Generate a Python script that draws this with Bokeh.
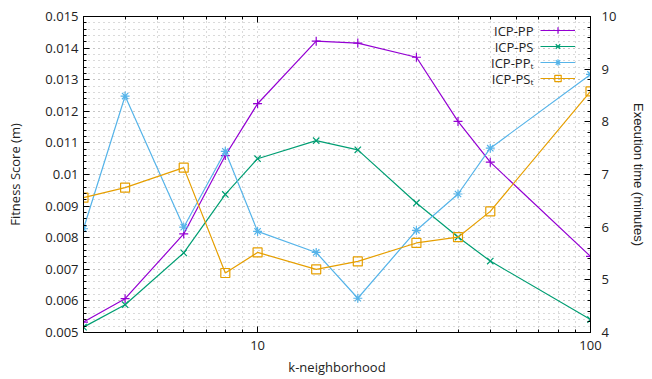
from bokeh.plotting import figure
from bokeh.models import (Range1d, LinearAxis, LogAxis, FixedTicker, Legend, LegendItem, Label)
from bokeh.embed import file_html
from bokeh.resources import INLINE

# ---- data ----
k = [3, 4, 6, 8, 10, 15, 20, 30, 40, 50, 100]
icp_pp = [0.00533, 0.00607, 0.00812, 0.0106, 0.01224, 0.01422, 0.01416, 0.01371, 0.01168, 0.01039, 0.00741]
icp_ps = [0.00517, 0.00588, 0.00752, 0.00937, 0.0105, 0.01107, 0.01078, 0.00910, 0.00802, 0.00726, 0.00541]
icp_pp_t = [5.97, 8.49, 6.00, 7.44, 5.92, 5.52, 4.65, 5.94, 6.63, 7.50, 8.90]
icp_ps_t = [6.56, 6.75, 7.13, 5.13, 5.52, 5.20, 5.35, 5.70, 5.81, 6.30, 8.58]
series_names = ["ICP-PP", "ICP-PS", "ICP-PP\u209c", "ICP-PS\u209c"]

x_major = [10, 100]
x_minor = [3, 4, 5, 6, 7, 8, 9, 20, 30, 40, 50, 60, 70, 80, 90]
y_major = [0.005, 0.006, 0.007, 0.008, 0.009, 0.010, 0.011, 0.012, 0.013, 0.014, 0.015]
y_labels = ["0.005", "0.006", "0.007", "0.008", "0.009", "0.01", "0.011", "0.012", "0.013", "0.014", "0.015"]
y_minor = [round(0.005 + i * 0.0002, 5) for i in range(51)]
y2_major = [4, 5, 6, 7, 8, 9, 10]
y2_minor = [round(4 + i * 0.2, 2) for i in range(31)]

FONT = "Open Sans"
TXT = "#222222"

p = figure(width=652, height=379, x_axis_type="log", output_backend="svg",
           toolbar_location=None, x_range=Range1d(3, 100), y_range=Range1d(0.005, 0.015),
           min_border_left=83, min_border_right=62, min_border_top=16, min_border_bottom=47)
p.extra_y_ranges = {"time": Range1d(4, 10)}
p.outline_line_color = "black"
p.outline_line_width = 1
p.background_fill_color = "white"

xt = FixedTicker(ticks=x_major, minor_ticks=x_minor)
yt = FixedTicker(ticks=y_major, minor_ticks=y_minor)
y2t = FixedTicker(ticks=y2_major, minor_ticks=y2_minor)

def style_axis(ax):
    ax.axis_line_color = "black"
    ax.major_tick_in = 6
    ax.major_tick_out = 0
    ax.minor_tick_in = 3
    ax.minor_tick_out = 0
    ax.major_tick_line_color = "black"
    ax.minor_tick_line_color = "black"
    ax.major_label_text_font = FONT
    ax.major_label_text_font_size = "13px"
    ax.major_label_text_color = TXT
    ax.axis_label_text_font = FONT
    ax.axis_label_text_font_size = "13px"
    ax.axis_label_text_font_style = "normal"
    ax.axis_label_text_color = TXT

xa = p.xaxis[0]
xa.ticker = xt
xa.major_label_overrides = {10: "10", 100: "100"}
xa.axis_label = "k-neighborhood"
style_axis(xa)
xa.major_label_standoff = 8
xa.axis_label_standoff = 5

ya = p.yaxis[0]
ya.ticker = yt
ya.major_label_overrides = {v: s for v, s in zip(y_major, y_labels)}
ya.axis_label = "Fitness Score (m)"
style_axis(ya)
ya.major_label_standoff = 5
ya.axis_label_standoff = 18

y2 = LinearAxis(y_range_name="time", ticker=y2t, axis_label="Execution time (minutes)")
style_axis(y2)
y2.major_label_standoff = 11
y2.axis_label_standoff = 12
y2.axis_label_text_font = "Liberation Sans"
p.add_layout(y2, "right")

top = LogAxis(ticker=xt)
style_axis(top)
top.major_label_text_font_size = "1px"
top.major_label_text_alpha = 0
top.major_label_standoff = 0
p.add_layout(top, "above")

# grids
for g, t in ((p.xgrid[0], xt), (p.ygrid[0], yt)):
    g.ticker = t
    g.grid_line_color = "#b4b4b4"
    g.grid_line_dash = "1 4"
    g.grid_line_width = 1
    g.minor_grid_line_color = "#b4b4b4"
    g.minor_grid_line_dash = "1 4"
    g.minor_grid_line_width = 1

C_PP, C_PS, C_PPT, C_PST = "#9400d3", "#009e73", "#56b4e9", "#e69f00"
LW = 1.2

l1 = p.line(k, icp_pp, color=C_PP, line_width=LW)
m1 = p.scatter(k, icp_pp, marker="cross", size=9, line_color=C_PP, line_width=LW)
l2 = p.line(k, icp_ps, color=C_PS, line_width=LW)
m2 = p.scatter(k, icp_ps, marker="x", size=9, line_color=C_PS, line_width=LW)
l3 = p.line(k, icp_pp_t, color=C_PPT, line_width=LW, y_range_name="time")
m3 = p.scatter(k, icp_pp_t, marker="asterisk", size=9, line_color=C_PPT, line_width=LW, y_range_name="time")
l4 = p.line(k, icp_ps_t, color=C_PST, line_width=LW, y_range_name="time")
m4 = p.scatter(k, icp_ps_t, marker="square", size=9, line_color=C_PST, fill_color=None,
               line_width=LW, y_range_name="time")

# gnuplot-style key: sample glyphs on the right, right-aligned names on the left
ROW_H = 16
LEG_X = 457          # frame px from left where the samples start
LEG_BOTTOM = 246     # frame px from bottom of the key box
legend = Legend(items=[
    LegendItem(label=" ", renderers=[l1, m1]),
    LegendItem(label=" ", renderers=[l2, m2]),
    LegendItem(label=" ", renderers=[l3, m3]),
    LegendItem(label=" ", renderers=[l4, m4]),
], location=(LEG_X, LEG_BOTTOM))
legend.glyph_width = 35
legend.glyph_height = ROW_H
legend.label_height = ROW_H
legend.label_width = 1
legend.label_standoff = 0
legend.spacing = 0
legend.padding = 0
legend.margin = 0
legend.label_text_font_size = "8px"
legend.border_line_color = None
legend.background_fill_alpha = 0
p.add_layout(legend)

n = len(series_names)
for i, name in enumerate(series_names):
    p.add_layout(Label(x=LEG_X - 7, y=LEG_BOTTOM + (n - i - 0.5) * ROW_H,
                       x_units="screen", y_units="screen", text=name,
                       text_align="right", text_baseline="middle",
                       text_font=FONT, text_font_size="13px", text_color=TXT))

open("out.html", "w").write(file_html(p, INLINE))
